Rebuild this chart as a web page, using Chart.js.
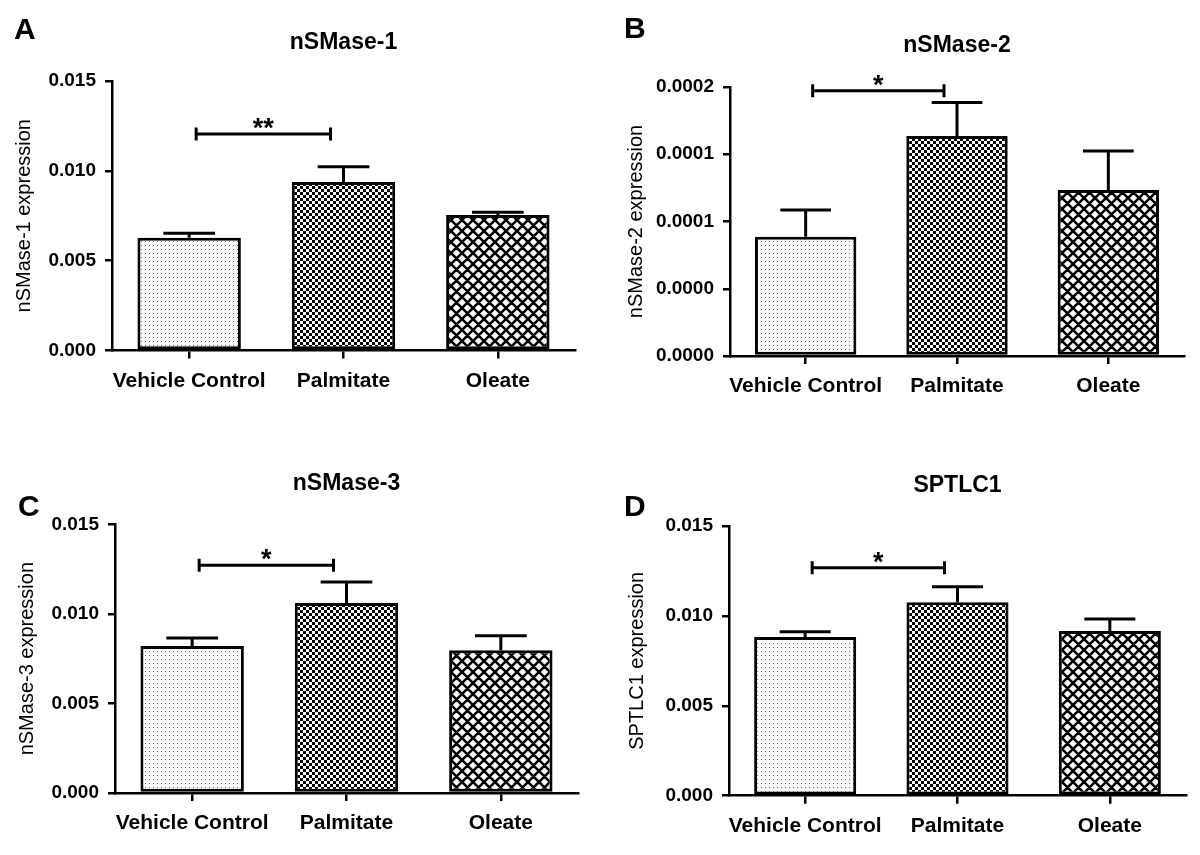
<!DOCTYPE html>
<html>
<head>
<meta charset="utf-8">
<title>Sphingomyelinase expression</title>
<script src="https://cdn.jsdelivr.net/npm/chart.js@4.4.1/dist/chart.umd.min.js"></script>
<style>
  body { margin: 0; background: #fff; }
  #wrap { position: relative; width: 1200px; height: 855px; }
  canvas { position: absolute; }
</style>
</head>
<body>
<div id="wrap">
  <canvas id="chartA" width="600" height="430" style="left:0;top:0"></canvas>
  <canvas id="chartB" width="600" height="430" style="left:600px;top:0"></canvas>
  <canvas id="chartC" width="600" height="425" style="left:0;top:430px"></canvas>
  <canvas id="chartD" width="600" height="425" style="left:600px;top:430px"></canvas>
</div>
<script>
const categories = ['Vehicle Control', 'Palmitate', 'Oleate'];

// mean and SEM
const nsmase1Mean = [0.00628, 0.00938, 0.00754];
const nsmase1Sem = [0.00024, 0.00085, 0.00015];
const nsmase2Mean = [0.0000710, 0.0001308, 0.0000987];
const nsmase2Sem = [0.0000158, 0.0000200, 0.0000233];
const nsmase3Mean = [0.00821, 0.01061, 0.00797];
const nsmase3Sem = [0.00044, 0.00117, 0.00081];
const sptlc1Mean = [0.00883, 0.01076, 0.00916];
const sptlc1Sem = [0.00029, 0.00086, 0.00067];

const ticksMain = [0, 0.005, 0.010, 0.015];
const ticksSmall = [0, 0.00004, 0.00008, 0.00012, 0.00016];

// significance bracket: Vehicle Control vs Palmitate
const bracketLevels = [0.01205, 0.0001578, 0.01271, 0.01268];
const bracketStars = ['**', '*', '*', '*'];

Chart.defaults.font.family = '"Liberation Sans", Arial, sans-serif';
Chart.defaults.color = '#000';

function makePattern(size, draw) {
  const c = document.createElement('canvas');
  c.width = size;
  c.height = size;
  const g = c.getContext('2d');
  draw(g, size);
  return c.getContext('2d').createPattern(c, 'repeat');
}

const dotPattern = makePattern(4, (g, s) => {
  g.fillStyle = '#fbfbfb';
  g.fillRect(0, 0, s, s);
  g.fillStyle = '#6a6a6a';
  g.fillRect(1, 1, 1, 1);
});

const checkerPattern = makePattern(6, (g, s) => {
  g.fillStyle = '#fff';
  g.fillRect(0, 0, s, s);
  g.fillStyle = '#000';
  g.fillRect(0, 0, 3, 3);
  g.fillRect(3, 3, 3, 3);
});

const crossPattern = makePattern(11, (g, s) => {
  g.fillStyle = '#fff';
  g.fillRect(0, 0, s, s);
  g.strokeStyle = '#000';
  g.lineWidth = 2.6;
  g.beginPath();
  for (const dx of [-s, 0, s]) {
    g.moveTo(dx, 0); g.lineTo(dx + s, s);
    g.moveTo(dx + s, 0); g.lineTo(dx, s);
  }
  g.stroke();
});

const annotate = {
  id: 'annotate',
  afterDatasetsDraw(chart, args, opts) {
    const { ctx, scales: { x, y } } = chart;
    const meta = chart.getDatasetMeta(0);
    const means = chart.data.datasets[0].data;
    ctx.save();
    ctx.strokeStyle = '#000';
    ctx.lineWidth = 3;

    // error bars (upper only)
    opts.errors.forEach((e, i) => {
      const bar = meta.data[i];
      const yTop = y.getPixelForValue(means[i] + e);
      const half = bar.width / 4;
      ctx.beginPath();
      ctx.moveTo(bar.x, bar.y);
      ctx.lineTo(bar.x, yTop);
      ctx.moveTo(bar.x - half, yTop);
      ctx.lineTo(bar.x + half, yTop);
      ctx.stroke();
    });

    // bracket
    const yb = y.getPixelForValue(opts.level);
    const x0 = x.getPixelForValue(0) + 7;
    const x1 = x.getPixelForValue(1) - 13;
    ctx.beginPath();
    ctx.moveTo(x0, yb); ctx.lineTo(x1, yb);
    ctx.moveTo(x0, yb - 6.5); ctx.lineTo(x0, yb + 6.5);
    ctx.moveTo(x1, yb - 6.5); ctx.lineTo(x1, yb + 6.5);
    ctx.stroke();
    ctx.fillStyle = '#000';
    ctx.font = 'bold 27px "Liberation Sans", Arial, sans-serif';
    ctx.textAlign = 'center';
    ctx.textBaseline = 'alphabetic';
    ctx.fillText(opts.stars, (x0 + x1) / 2, yb + 3);

    // panel letter
    ctx.font = 'bold 30px "Liberation Sans", Arial, sans-serif';
    ctx.textAlign = 'left';
    ctx.fillText(opts.letter, opts.letterX, opts.letterY);
    ctx.restore();
  }
};

function makeChart(id, p) {
  const ctx = document.getElementById(id).getContext('2d');
  return new Chart(ctx, {
    type: 'bar',
    data: {
      labels: categories,
      datasets: [{
        data: p.means,
        backgroundColor: [dotPattern, checkerPattern, crossPattern],
        borderColor: '#000',
        borderWidth: 3,
        borderSkipped: false,
        barPercentage: 0.67,
        categoryPercentage: 1.0
      }]
    },
    options: {
      responsive: false,
      animation: false,
      events: [],
      layout: { padding: { left: 0, right: p.padRight, top: 0, bottom: 0 } },
      plugins: {
        legend: { display: false },
        tooltip: { enabled: false },
        title: {
          display: true,
          text: p.title,
          fullSize: false,
          font: { size: 23, weight: 'bold' },
          padding: { top: p.titleTop, bottom: p.titleBottom }
        },
        annotate: {
          errors: p.sems,
          level: p.level,
          stars: p.stars,
          letter: p.letter,
          letterX: p.letterX,
          letterY: p.letterY
        }
      },
      scales: {
        x: {
          grid: {
            offset: false,
            drawOnChartArea: false,
            drawTicks: true,
            tickLength: 8,
            color: '#000',
            lineWidth: 2.5
          },
          border: { color: '#000', width: 2.5 },
          ticks: { font: { size: 21, weight: 'bold' }, padding: 10, maxRotation: 0, autoSkip: false },
          afterFit: (s) => { s.height = p.xHeight; }
        },
        y: {
          min: 0,
          max: p.ticks[p.ticks.length - 1],
          grid: {
            drawOnChartArea: false,
            drawTicks: true,
            tickLength: 7,
            color: '#000',
            lineWidth: 2.5
          },
          border: { color: '#000', width: 2.5 },
          ticks: {
            font: { size: 19, weight: 'bold' },
            padding: 9,
            callback: (v) => Number(v).toFixed(p.decimals)
          },
          afterBuildTicks: (s) => { s.ticks = p.ticks.map(v => ({ value: v })); },
          afterFit: (s) => { s.width = p.yWidth; },
          title: {
            display: true,
            text: p.yTitle,
            font: { size: 20, weight: 'normal' },
            padding: { top: p.yTitlePad, bottom: 0 }
          }
        }
      }
    },
    plugins: [annotate]
  });
}

makeChart('chartA', {
  title: 'nSMase-1', yTitle: 'nSMase-1 expression',
  means: nsmase1Mean, sems: nsmase1Sem, ticks: ticksMain, decimals: 3,
  level: bracketLevels[0], stars: bracketStars[0],
  letter: 'A', letterX: 14, letterY: 39,
  yWidth: 112, padRight: 25, titleTop: 29, titleBottom: 24.4,
  xHeight: 79.5, yTitlePad: 12
});

makeChart('chartB', {
  title: 'nSMase-2', yTitle: 'nSMase-2 expression',
  means: nsmase2Mean, sems: nsmase2Sem, ticks: ticksSmall, decimals: 4,
  level: bracketLevels[1], stars: bracketStars[1],
  letter: 'B', letterX: 24, letterY: 38,
  yWidth: 130, padRight: 16, titleTop: 32, titleBottom: 27.4,
  xHeight: 74, yTitlePad: 24
});

makeChart('chartC', {
  title: 'nSMase-3', yTitle: 'nSMase-3 expression',
  means: nsmase3Mean, sems: nsmase3Sem, ticks: ticksMain, decimals: 3,
  level: bracketLevels[2], stars: bracketStars[2],
  letter: 'C', letterX: 18, letterY: 86,
  yWidth: 115, padRight: 22, titleTop: 40, titleBottom: 26.7,
  xHeight: 62, yTitlePad: 15
});

makeChart('chartD', {
  title: 'SPTLC1', yTitle: 'SPTLC1 expression',
  means: sptlc1Mean, sems: sptlc1Sem, ticks: ticksMain, decimals: 3,
  level: bracketLevels[3], stars: bracketStars[3],
  letter: 'D', letterX: 24, letterY: 86,
  yWidth: 129, padRight: 14, titleTop: 42, titleBottom: 26.4,
  xHeight: 59.3, yTitlePad: 25
});
</script>
</body>
</html>
